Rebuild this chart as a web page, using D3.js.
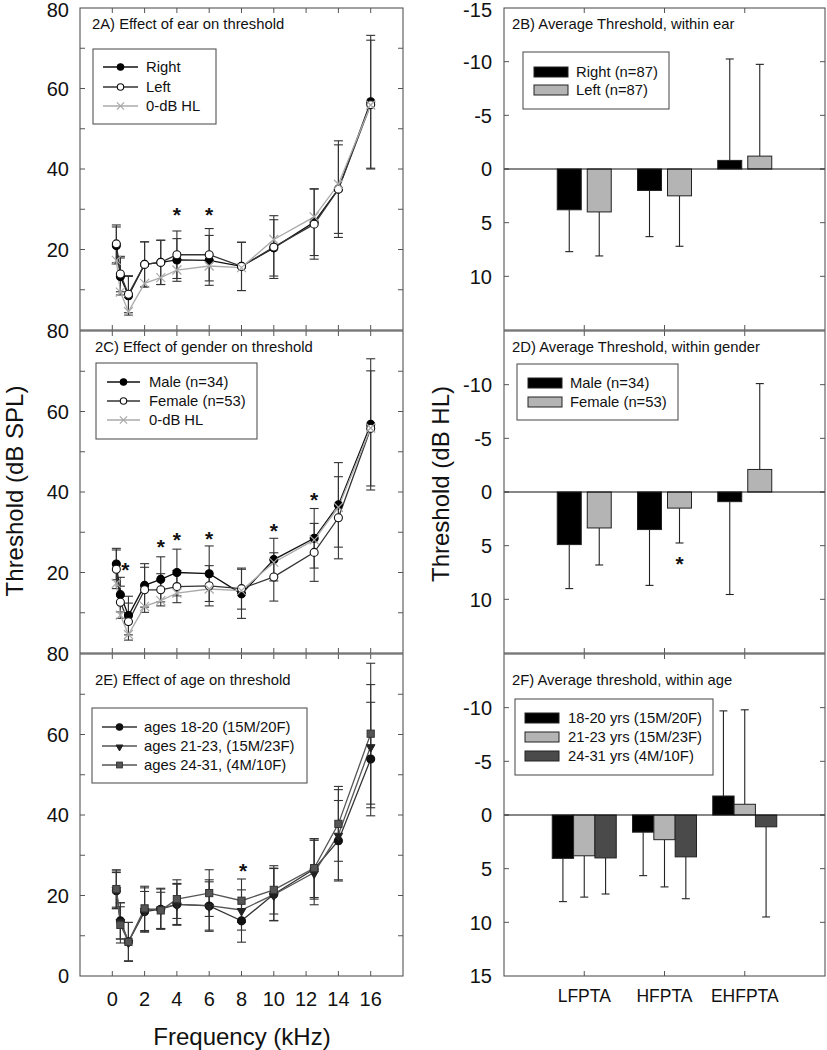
<!DOCTYPE html>
<html><head><meta charset="utf-8">
<script src="https://cdn.jsdelivr.net/npm/d3@7"></script>
<style>body{margin:0;background:#fff;} text{font-family:Arial,"Liberation Sans",sans-serif;}</style>
</head><body>
<svg id="c" width="827" height="1050"></svg>
<script>
// ---------- data ----------
const freqs = [0.25, 0.5, 1, 2, 3, 4, 6, 8, 10, 12.5, 14, 16];
const freqTicks = [0, 2, 4, 6, 8, 10, 12, 14, 16];
const splTicks = [0, 20, 40, 60, 80];
const hlTicks = [-15, -10, -5, 0, 5, 10, 15];

const hl0 = [17.3, 9.4, 4.6, 11.6, 13.0, 14.9, 15.9, 15.5, 22.5, 28.1, 36.2, 55.9];

const earRight = [21.0, 13.3, 8.5, 16.3, 16.8, 17.4, 17.3, 15.8, 20.4, 26.8, 35.0, 56.7];
const earRightSD = [4.6, 4.6, 4.8, 5.6, 5.5, 5.3, 6.2, 6.0, 7.0, 8.3, 12.0, 16.5];
const earLeft = [21.4, 13.9, 8.9, 16.3, 16.8, 18.7, 18.7, 15.8, 20.6, 26.3, 35.0, 56.0];
const earLeftSD = [4.7, 4.4, 4.6, 5.6, 5.5, 5.9, 6.5, 6.0, 7.8, 8.7, 11.0, 16.0];
const earStars = [[4, 29.5], [6, 29.5]];

const male = [22.1, 14.5, 9.3, 16.8, 18.3, 20.0, 19.7, 14.7, 23.2, 28.5, 36.8, 56.8];
const maleSD = [3.9, 4.3, 4.8, 5.4, 5.6, 5.8, 6.9, 6.1, 5.3, 7.4, 10.5, 16.3];
const female = [20.8, 12.6, 7.8, 15.7, 15.7, 16.5, 16.7, 16.0, 18.9, 25.0, 33.6, 55.8];
const femaleSD = [4.8, 4.0, 4.6, 5.6, 4.0, 4.0, 5.0, 5.1, 6.0, 7.2, 10.2, 14.3];
const genderStars = [[0.8, 21.7], [3, 27.3], [4, 29.0], [6, 29.2], [10, 31.4], [12.5, 38.9]];

const age1 = [21.2, 13.7, 8.5, 16.0, 16.6, 17.8, 17.4, 13.7, 20.3, 26.6, 33.6, 53.9];
const age1SD = [4.5, 4.5, 4.8, 5.0, 5.0, 5.0, 6.0, 5.3, 6.5, 7.5, 10.0, 14.1];
const age2 = [21.6, 13.7, 8.5, 16.4, 16.8, 17.8, 17.5, 16.4, 20.2, 25.7, 35.1, 57.1];
const age2SD = [4.5, 4.5, 4.8, 5.5, 5.0, 5.2, 6.4, 5.0, 6.5, 8.0, 11.2, 15.3];
const age3 = [21.6, 12.7, 8.5, 16.8, 16.3, 19.1, 20.6, 18.7, 21.4, 26.8, 37.8, 60.2];
const age3SD = [4.8, 4.5, 4.8, 5.5, 4.5, 4.8, 5.8, 5.4, 6.0, 7.3, 9.3, 17.5];
const ageStars = [[8.1, 27.2]];

const categories = ["LFPTA", "HFPTA", "EHFPTA"];
const barEarRight = [3.8, 2.0, -0.8];
const barEarRightSD = [3.9, 4.3, 9.45];
const barEarLeft = [4.0, 2.5, -1.2];
const barEarLeftSD = [4.1, 4.7, 8.55];
const barMale = [4.9, 3.5, 0.9];
const barMaleSD = [4.1, 5.2, 8.65];
const barFemale = [3.35, 1.5, -2.1];
const barFemaleSD = [3.45, 3.25, 8.0];
const barGenderStars = [["HFPTA", 1, 6.3]];
const barAge1 = [4.04, 1.6, -1.77];
const barAge1SD = [4.03, 4.05, 7.93];
const barAge2 = [3.8, 2.3, -1.0];
const barAge2SD = [3.85, 4.4, 8.8];
const barAge3 = [4.0, 3.9, 1.1];
const barAge3SD = [3.36, 3.9, 8.4];

// ---------- layout ----------
const svg = d3.select("#c");
const FRAME = "#555";
const rowTop = [8, 331, 654];
const rowH = 322;
const L = {x0: 80, x1: 403};
const R = {x0: 504, x1: 825};
const fs = 14.8;

function frame(g, x0, x1, y0, y1) {
  g.append("rect").attr("x", x0).attr("y", y0).attr("width", x1 - x0).attr("height", y1 - y0)
    .attr("fill", "none").attr("stroke", FRAME).attr("stroke-width", 1.1);
}

function star(g, x, y) {
  g.append("text").attr("x", x).attr("y", y + 11).attr("text-anchor", "middle")
    .attr("font-size", 21).attr("font-weight", "bold").attr("fill", "#111").text("*");
}

function tickLabel(g, x, y, t, topMost) {
  g.append("text").attr("x", x).attr("y", topMost ? Math.max(y, 10) : y).attr("dy", "0.36em").attr("text-anchor", "end")
    .attr("font-size", 20).attr("fill", "#111").text(t);
}

// ---------- line panels ----------
function linePanel(row, title, titleY, series, legendBox, stars, showZero) {
  const y0 = rowTop[row], y1 = y0 + rowH;
  const x = d3.scaleLinear().domain([-2, 18]).range([L.x0, L.x1]);
  const y = d3.scaleLinear().domain([0, 80]).range([y1, y0]);
  const g = svg.append("g");
  const tl = 5;
  freqTicks.forEach(t => {
    g.append("line").attr("x1", x(t)).attr("x2", x(t)).attr("y1", y1).attr("y2", y1 - tl).attr("stroke", FRAME);
    g.append("line").attr("x1", x(t)).attr("x2", x(t)).attr("y1", y0).attr("y2", y0 + tl).attr("stroke", FRAME);
  });
  d3.range(10, 80, 10).forEach(t => {
    g.append("line").attr("x1", L.x0).attr("x2", L.x0 + tl).attr("y1", y(t)).attr("y2", y(t)).attr("stroke", FRAME);
    g.append("line").attr("x1", L.x1).attr("x2", L.x1 - tl).attr("y1", y(t)).attr("y2", y(t)).attr("stroke", FRAME);
  });
  splTicks.filter(t => t > 0 || showZero).forEach(t => tickLabel(g, L.x0 - 11, y(t), t, row === 0 && t === 80));
  frame(g, L.x0, L.x1, y0, y1);
  g.append("text").attr("x", row === 0 ? 92 : 95).attr("y", titleY).attr("font-size", fs).attr("fill", "#111").text(title);

  series.forEach(s => {
    if (!s.sd) return;
    const eg = g.append("g").attr("stroke", s.errColor || "#333").attr("stroke-width", 1.1);
    freqs.forEach((f, i) => {
      const cx = x(f), top = y(s.vals[i] + s.sd[i]), bot = y(s.vals[i] - s.sd[i]);
      eg.append("line").attr("x1", cx).attr("x2", cx).attr("y1", top).attr("y2", bot);
      eg.append("line").attr("x1", cx - 4.5).attr("x2", cx + 4.5).attr("y1", top).attr("y2", top);
      eg.append("line").attr("x1", cx - 4.5).attr("x2", cx + 4.5).attr("y1", bot).attr("y2", bot);
    });
  });
  const line = d3.line().x((d, i) => x(freqs[i])).y(d => y(d));
  series.forEach(s => {
    g.append("path").attr("d", line(s.vals)).attr("fill", "none").attr("stroke", s.line).attr("stroke-width", 1.3);
  });
  series.forEach(s => {
    s.vals.forEach((v, i) => drawMarker(g, s.marker, x(freqs[i]), y(v), 1));
  });
  stars.forEach(([f, v]) => star(g, x(f), y(v)));

  const lb = legendBox;
  g.append("rect").attr("x", lb.x0).attr("y", lb.y0).attr("width", lb.x1 - lb.x0).attr("height", lb.y1 - lb.y0)
    .attr("fill", "#fff").attr("stroke", FRAME).attr("stroke-width", 1.1);
  series.forEach((s, i) => {
    const ry = lb.rows[i];
    g.append("line").attr("x1", lb.lx0).attr("x2", lb.lx1).attr("y1", ry).attr("y2", ry).attr("stroke", s.line).attr("stroke-width", 1.3);
    drawMarker(g, s.marker, (lb.lx0 + lb.lx1) / 2, ry, 0.8);
    g.append("text").attr("x", lb.tx).attr("y", ry).attr("dy", "0.36em").attr("font-size", fs).attr("fill", "#111").text(s.name);
  });
}

function drawMarker(g, m, cx, cy, k) {
  if (m.type === "circle") {
    g.append("circle").attr("cx", cx).attr("cy", cy).attr("r", 4 * k).attr("fill", m.fill).attr("stroke", m.stroke).attr("stroke-width", 1.1);
  } else if (m.type === "x") {
    const r = 4.5 * k;
    g.append("path").attr("d", `M${cx - r},${cy - r}L${cx + r},${cy + r}M${cx - r},${cy + r}L${cx + r},${cy - r}`)
      .attr("stroke", m.stroke).attr("stroke-width", 1.2);
  } else if (m.type === "tri") {
    g.append("path").attr("d", d3.symbol(d3.symbolTriangle, 32 * k * k)()).attr("transform", `translate(${cx},${cy + 1}) rotate(180)`)
      .attr("fill", m.fill).attr("stroke", m.stroke).attr("stroke-width", 1);
  } else if (m.type === "sq") {
    const r = 3.6 * k;
    g.append("rect").attr("x", cx - r).attr("y", cy - r).attr("width", 2 * r).attr("height", 2 * r)
      .attr("fill", m.fill).attr("stroke", m.stroke).attr("stroke-width", 1);
  }
}

const mFilled = {type: "circle", fill: "#000", stroke: "#000"};
const mOpen = {type: "circle", fill: "#fff", stroke: "#111"};
const mX = {type: "x", stroke: "#a8a8a8"};

linePanel(0, "2A) Effect of ear on threshold", 29, [
  {name: "Right", vals: earRight, sd: earRightSD, line: "#111", marker: mFilled},
  {name: "Left", vals: earLeft, sd: earLeftSD, line: "#333", marker: mOpen},
  {name: "0-dB HL", vals: hl0, line: "#aaa", marker: mX}
], {x0: 93, x1: 216, y0: 49, y1: 124, lx0: 103, lx1: 138, tx: 146, rows: [67, 87, 106]}, earStars, false);

linePanel(1, "2C) Effect of gender on threshold", 352, [
  {name: "Male (n=34)", vals: male, sd: maleSD, line: "#111", marker: mFilled},
  {name: "Female (n=53)", vals: female, sd: femaleSD, line: "#333", marker: mOpen},
  {name: "0-dB HL", vals: hl0, line: "#aaa", marker: mX}
], {x0: 96, x1: 257, y0: 363, y1: 439, lx0: 107, lx1: 140, tx: 149, rows: [382, 401, 420]}, genderStars, false);

linePanel(2, "2E) Effect of age on threshold", 685, [
  {name: "ages 18-20 (15M/20F)", vals: age1, sd: age1SD, line: "#333", marker: {type: "circle", fill: "#111", stroke: "#111"}},
  {name: "ages 21-23, (15M/23F)", vals: age2, sd: age2SD, line: "#555", marker: {type: "tri", fill: "#222", stroke: "#222"}},
  {name: "ages 24-31, (4M/10F)", vals: age3, sd: age3SD, line: "#555", marker: {type: "sq", fill: "#555", stroke: "#333"}}
], {x0: 92, x1: 307, y0: 708, y1: 783, lx0: 102, lx1: 137, tx: 144, rows: [727, 746, 765]}, ageStars, true);

{
  const x = d3.scaleLinear().domain([-2, 18]).range([L.x0, L.x1]);
  freqTicks.forEach(t => svg.append("text").attr("x", x(t)).attr("y", 1006).attr("text-anchor", "middle")
    .attr("font-size", 20).attr("fill", "#111").text(t));
  svg.append("text").attr("x", 242).attr("y", 1045).attr("text-anchor", "middle").attr("font-size", 24).attr("fill", "#111").text("Frequency (kHz)");
  svg.append("text").attr("transform", "translate(23,491) rotate(-90)").attr("text-anchor", "middle").attr("font-size", 24).attr("fill", "#111").text("Threshold (dB SPL)");
}

// ---------- bar panels ----------
function barPanel(row, title, series, legendBox, stars, labelTicks, titleY) {
  const y0 = rowTop[row], y1 = y0 + rowH;
  const x = d3.scalePoint().domain(categories).range([R.x0, R.x1]).padding(1);
  const y = d3.scaleLinear().domain([-15, 15]).range([y0, y1]);
  const g = svg.append("g");
  const tl = 5;
  categories.forEach(c => {
    g.append("line").attr("x1", x(c)).attr("x2", x(c)).attr("y1", y1).attr("y2", y1 - tl).attr("stroke", FRAME);
    g.append("line").attr("x1", x(c)).attr("x2", x(c)).attr("y1", y0).attr("y2", y0 + tl).attr("stroke", FRAME);
  });
  [-10, -5, 0, 5, 10].forEach(t => {
    g.append("line").attr("x1", R.x0).attr("x2", R.x0 + tl).attr("y1", y(t)).attr("y2", y(t)).attr("stroke", FRAME);
    g.append("line").attr("x1", R.x1).attr("x2", R.x1 - tl).attr("y1", y(t)).attr("y2", y(t)).attr("stroke", FRAME);
  });
  labelTicks.forEach(t => tickLabel(g, R.x0 - 12, y(t), t, row === 0 && t === -15));
  const n = series.length;
  const half = n === 2 ? 27 : 32;
  const pad = n === 2 ? 0.2 : 0;
  categories.forEach((c, ci) => {
    const sub = d3.scaleBand().domain(series.map(s => s.name)).range([x(c) - half, x(c) + half]).paddingInner(pad);
    series.forEach(s => {
      const v = s.vals[ci], sd = s.sd[ci];
      const bx = sub(s.name), bw = sub.bandwidth();
      const cx = bx + bw / 2;
      const end = v + Math.sign(v) * sd;
      g.append("line").attr("x1", cx).attr("x2", cx).attr("y1", y(v)).attr("y2", y(end)).attr("stroke", "#222").attr("stroke-width", 1.1);
      g.append("line").attr("x1", cx - 4).attr("x2", cx + 4).attr("y1", y(end)).attr("y2", y(end)).attr("stroke", "#222").attr("stroke-width", 1.1);
      g.append("rect").attr("x", bx).attr("width", bw).attr("y", y(Math.min(0, v))).attr("height", Math.abs(y(v) - y(0)))
        .attr("fill", s.fill).attr("stroke", "#222").attr("stroke-width", 1);
    });
  });
  g.append("line").attr("x1", R.x0).attr("x2", R.x1).attr("y1", y(0)).attr("y2", y(0)).attr("stroke", "#111").attr("stroke-width", 1.1);
  frame(g, R.x0, R.x1, y0, y1);
  g.append("text").attr("x", 512).attr("y", titleY).attr("font-size", fs).attr("fill", "#111").text(title);
  stars.forEach(([c, si, v]) => {
    const sub = d3.scaleBand().domain(series.map(s => s.name)).range([x(c) - half, x(c) + half]).paddingInner(pad);
    star(g, sub(series[si].name) + sub.bandwidth() / 2, y(v));
  });
  const lb = legendBox;
  g.append("rect").attr("x", lb.x0).attr("y", lb.y0).attr("width", lb.x1 - lb.x0).attr("height", lb.y1 - lb.y0)
    .attr("fill", "#fff").attr("stroke", FRAME).attr("stroke-width", 1.1);
  series.forEach((s, i) => {
    const ry = lb.rows[i];
    g.append("rect").attr("x", lb.sx0).attr("y", ry - 5).attr("width", lb.sx1 - lb.sx0).attr("height", 10)
      .attr("fill", s.fill).attr("stroke", "#222").attr("stroke-width", 1);
    g.append("text").attr("x", lb.tx).attr("y", ry).attr("dy", "0.36em").attr("font-size", fs).attr("fill", "#111").text(s.name);
  });
}

barPanel(0, "2B) Average Threshold, within ear", [
  {name: "Right (n=87)", vals: barEarRight, sd: barEarRightSD, fill: "#000"},
  {name: "Left (n=87)", vals: barEarLeft, sd: barEarLeftSD, fill: "#b4b4b4"}
], {x0: 523, x1: 669, y0: 52, y1: 109, sx0: 534, sx1: 568, tx: 576, rows: [72, 90]}, [], [-15, -10, -5, 0, 5, 10], 29);

barPanel(1, "2D) Average Threshold, within gender", [
  {name: "Male (n=34)", vals: barMale, sd: barMaleSD, fill: "#000"},
  {name: "Female (n=53)", vals: barFemale, sd: barFemaleSD, fill: "#b4b4b4"}
], {x0: 517, x1: 678, y0: 364, y1: 420, sx0: 528, sx1: 562, tx: 570, rows: [383, 402]}, barGenderStars, [-10, -5, 0, 5, 10], 352);

barPanel(2, "2F) Average threshold, within age", [
  {name: "18-20 yrs (15M/20F)", vals: barAge1, sd: barAge1SD, fill: "#000"},
  {name: "21-23 yrs (15M/23F)", vals: barAge2, sd: barAge2SD, fill: "#b4b4b4"},
  {name: "24-31 yrs (4M/10F)", vals: barAge3, sd: barAge3SD, fill: "#4a4a4a"}
], {x0: 515, x1: 713, y0: 699, y1: 775, sx0: 525, sx1: 559, tx: 568, rows: [718, 737, 756]}, [], [-10, -5, 0, 5, 10, 15], 685);

{
  const x = d3.scalePoint().domain(categories).range([R.x0, R.x1]).padding(1);
  categories.forEach(c => svg.append("text").attr("x", x(c)).attr("y", 1002).attr("text-anchor", "middle")
    .attr("font-size", 17.5).attr("fill", "#111").text(c));
  svg.append("text").attr("transform", "translate(449,484) rotate(-90)").attr("text-anchor", "middle").attr("font-size", 24).attr("fill", "#111").text("Threshold (dB HL)");
}
</script>
</body></html>
